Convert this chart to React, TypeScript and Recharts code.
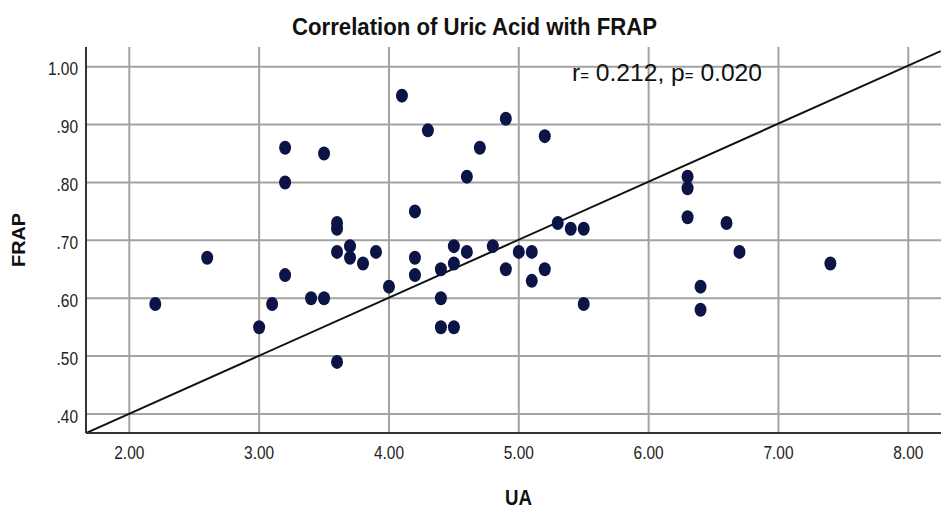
import React from 'react'
import {
  ScatterChart, Scatter, XAxis, YAxis, ReferenceLine,
} from 'recharts'

// UA (x) and FRAP (y) pairs
const UA = [
  2.2, 2.6, 3.0, 3.1, 3.2, 3.2, 3.2, 3.4, 3.5, 3.5,
  3.6, 3.6, 3.6, 3.6, 3.7, 3.7, 3.8, 3.9, 4.0, 4.1,
  4.2, 4.2, 4.2, 4.3, 4.4, 4.4, 4.4, 4.5, 4.5, 4.5,
  4.6, 4.6, 4.7, 4.8, 4.9, 4.9, 5.0, 5.1, 5.1, 5.2,
  5.2, 5.3, 5.4, 5.5, 5.5, 6.3, 6.3, 6.3, 6.4, 6.4,
  6.6, 6.7, 7.4,
]
const FRAP = [
  0.59, 0.67, 0.55, 0.59, 0.64, 0.80, 0.86, 0.60, 0.60, 0.85,
  0.49, 0.68, 0.72, 0.73, 0.67, 0.69, 0.66, 0.68, 0.62, 0.95,
  0.64, 0.67, 0.75, 0.89, 0.55, 0.60, 0.65, 0.55, 0.66, 0.69,
  0.68, 0.81, 0.86, 0.69, 0.65, 0.91, 0.68, 0.63, 0.68, 0.65,
  0.88, 0.73, 0.72, 0.59, 0.72, 0.74, 0.79, 0.81, 0.58, 0.62,
  0.73, 0.68, 0.66,
]

// fit line end points (where it leaves the plot frame)
const FIT_X = [1.666, 8.25]
const FIT_Y = [0.367, 1.027]

const X_TICKS = [2, 3, 4, 5, 6, 7, 8]
const X_TICK_LABELS = ['2.00', '3.00', '4.00', '5.00', '6.00', '7.00', '8.00']
const Y_TICKS = [0.4, 0.5, 0.6, 0.7, 0.8, 0.9, 1.0]
const Y_TICK_LABELS = ['.40', '.50', '.60', '.70', '.80', '.90', '1.00']

const FONT = "'Liberation Sans', Arial, Helvetica, sans-serif"
const DOT = '#0c1445'
const GRID = '#a2a2a2'

const points = UA.map((ua, i) => ({ ua, frap: FRAP[i] }))

// axis offsets: default tickSize (6) + tickMargin 0 -> x ticks at y = 439, y ticks at x = 80
function XTick({ x, y, payload }: any) {
  const i = X_TICKS.indexOf(payload.value)
  return (
    <text
      transform={`translate(${x},${y + 20}) scale(0.86,1)`}
      textAnchor="middle" fontSize={18} fontFamily={FONT} fill="#222"
    >
      {X_TICK_LABELS[i] ?? payload.value}
    </text>
  )
}

function YTick({ x, y, payload }: any) {
  const i = Y_TICKS.findIndex(t => Math.abs(t - payload.value) < 1e-6)
  return (
    <text
      transform={`translate(${x - 2},${y + 8.5}) scale(0.86,1)`}
      textAnchor="end" fontSize={18} fontFamily={FONT} fill="#222"
    >
      {Y_TICK_LABELS[i] ?? payload.value}
    </text>
  )
}

function Dot({ cx, cy }: any) {
  return <ellipse cx={cx} cy={cy} rx={6} ry={7} fill={DOT} />
}

export default function App() {
  return (
    <div style={{ position: 'absolute', left: 0, top: 0, width: 941, height: 510, background: '#fff' }}>
      <ScatterChart width={941} height={510} margin={{ top: 47, right: 0, bottom: 0, left: 0 }}>
        <XAxis
          type="number" dataKey="ua" domain={[1.6664, 8.252]} allowDataOverflow
          ticks={X_TICKS} height={77} tickMargin={0} tickLine={false}
          axisLine={{ stroke: '#333', strokeWidth: 2 }} tick={<XTick />}
        />
        <YAxis
          type="number" dataKey="frap" domain={[0.3672, 1.034]} allowDataOverflow
          ticks={Y_TICKS} width={86} tickMargin={0} tickLine={false}
          axisLine={{ stroke: '#333', strokeWidth: 2 }} tick={<YTick />}
        />
        {Y_TICKS.map(t => (
          <ReferenceLine key={'h' + t} y={t} stroke={GRID} strokeWidth={2} />
        ))}
        {X_TICKS.map(t => (
          <ReferenceLine key={'v' + t} x={t} stroke={GRID} strokeWidth={2} />
        ))}
        <ReferenceLine
          segment={[{ x: FIT_X[0], y: FIT_Y[0] }, { x: FIT_X[1], y: FIT_Y[1] }]}
          stroke="#111" strokeWidth={2} ifOverflow="visible"
        />
        <Scatter data={points} shape={<Dot />} isAnimationActive={false} />
      </ScatterChart>

      <svg width={941} height={510} style={{ position: 'absolute', left: 0, top: 0, pointerEvents: 'none' }}>
        <text
          x={474.5} y={35} textAnchor="middle" fontSize={24} fontWeight="bold"
          fontFamily={FONT} fill="#111" textLength={365} lengthAdjust="spacingAndGlyphs"
        >
          Correlation of Uric Acid with FRAP
        </text>
        <text
          x={572} y={81} fontSize={23} fontFamily={FONT} fill="#111"
          textLength={190} lengthAdjust="spacingAndGlyphs"
        >
          r<tspan fontSize={14}>=</tspan> 0.212, p<tspan fontSize={14}>=</tspan> 0.020
        </text>
        <text
          transform="translate(25,240) rotate(-90)" textAnchor="middle" fontSize={18}
          fontWeight="bold" fontFamily={FONT} fill="#111" textLength={54} lengthAdjust="spacingAndGlyphs"
        >
          FRAP
        </text>
        <text
          x={518.5} y={505} textAnchor="middle" fontSize={22} fontWeight="bold"
          fontFamily={FONT} fill="#111" textLength={27} lengthAdjust="spacingAndGlyphs"
        >
          UA
        </text>
      </svg>
    </div>
  )
}
